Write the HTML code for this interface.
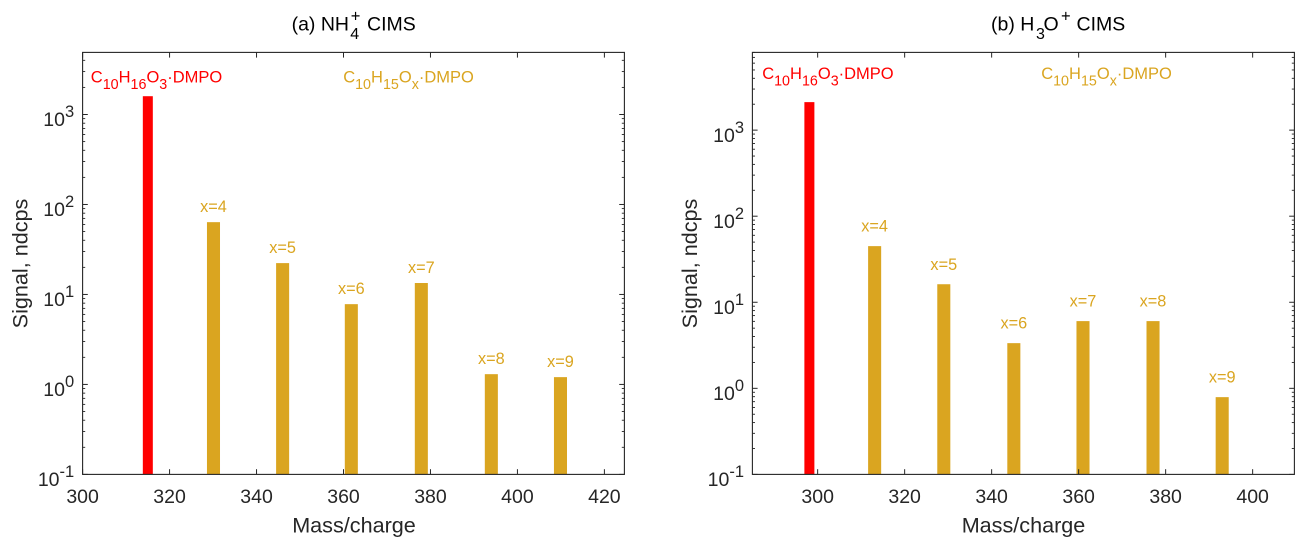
<!DOCTYPE html>
<html lang="en">
<head>
<meta charset="utf-8">
<title>CIMS signal charts</title>
<style>
html,body{margin:0;padding:0;background:#fff;width:1306px;height:549px;overflow:hidden}
svg{display:block}
text{font-family:"Liberation Sans",Arial,sans-serif}
.title{font-size:19.5px;fill:#000}
.axis-label{font-size:21.6px;fill:#262626;text-anchor:middle}
.tick{font-size:19.5px;fill:#262626}
.note{font-size:16.5px}
.bar-label{font-size:16.3px;fill:#DAA520;text-anchor:middle}
</style>
</head>
<body>
<svg id="figure" xmlns="http://www.w3.org/2000/svg" width="1306" height="549" viewBox="0 0 1306 549">
  <rect x="0" y="0" width="1306" height="549" fill="#fff"/>

  <g id="panel-a"></g>
  <g id="panel-b"></g>

  <text class="title" x="291.6" y="30.7">(a) NH<tspan font-size="16" x="350.3" y="39">4</tspan><tspan font-size="16.5" x="350.7" y="21.7">+</tspan><tspan x="367" y="30.7">CIMS</tspan></text>
  <text class="title" x="991" y="30.7">(b) H<tspan font-size="16" x="1036" y="39">3</tspan><tspan x="1043.5" y="30.7">O</tspan><tspan font-size="16.5" x="1061" y="21.7">+</tspan><tspan x="1076.5" y="30.7">CIMS</tspan></text>

  <text class="axis-label" x="354" y="532.4">Mass/charge</text>
  <text class="axis-label" x="1023.5" y="532.4">Mass/charge</text>
  <text class="axis-label" transform="translate(27.3 263.5) rotate(-90)">Signal, ndcps</text>
  <text class="axis-label" transform="translate(697 263.5) rotate(-90)">Signal, ndcps</text>

  <text class="note" fill="#FF0000" x="90.8" y="82.3">C<tspan font-size="14.3" dy="6.5">10</tspan><tspan dy="-6.5">H</tspan><tspan font-size="14.3" dy="6.5">16</tspan><tspan dy="-6.5">O</tspan><tspan font-size="14.3" dy="6.5">3</tspan><tspan dy="-6.5">·DMPO</tspan></text>
  <text class="note" fill="#DAA520" x="343.2" y="82.3">C<tspan font-size="14.3" dy="6.5">10</tspan><tspan dy="-6.5">H</tspan><tspan font-size="14.3" dy="6.5">15</tspan><tspan dy="-6.5">O</tspan><tspan font-size="14.3" dy="6.5">x</tspan><tspan dy="-6.5">·DMPO</tspan></text>
  <text class="note" fill="#FF0000" x="762.2" y="79">C<tspan font-size="14.3" dy="6.5">10</tspan><tspan dy="-6.5">H</tspan><tspan font-size="14.3" dy="6.5">16</tspan><tspan dy="-6.5">O</tspan><tspan font-size="14.3" dy="6.5">3</tspan><tspan dy="-6.5">·DMPO</tspan></text>
  <text class="note" fill="#DAA520" x="1041.2" y="79">C<tspan font-size="14.3" dy="6.5">10</tspan><tspan dy="-6.5">H</tspan><tspan font-size="14.3" dy="6.5">15</tspan><tspan dy="-6.5">O</tspan><tspan font-size="14.3" dy="6.5">x</tspan><tspan dy="-6.5">·DMPO</tspan></text>
</svg>

<script>
// Panel (a) data
const parentMassA = [315];
const parentSignalA = [1597];
const massA = [330.1, 346, 361.8, 377.9, 394, 409.9];
const signalA = [63.6, 22.3, 7.8, 13.4, 1.3, 1.205];
const labelsA = ['x=4', 'x=5', 'x=6', 'x=7', 'x=8', 'x=9'];
const xTicksA = [300, 320, 340, 360, 380, 400, 420];

// Panel (b) data
const parentMassB = [298.1];
const parentSignalB = [2115];
const massB = [313.1, 329, 345.1, 361, 377.1, 393];
const signalB = [44.9, 16.2, 3.35, 6.04, 6.04, 0.79];
const labelsB = ['x=4', 'x=5', 'x=6', 'x=7', 'x=8', 'x=9'];
const xTicksB = [300, 320, 340, 360, 380, 400];

// Shared log axis decades
const yExponentsA = [-1, 0, 1, 2, 3];
const yExponentsB = [-1, 0, 1, 2, 3];
const minorMultipliers = [2, 3, 4, 5, 6, 7, 8, 9];

const SVG_NS = 'http://www.w3.org/2000/svg';
const INK = '#262626';

function make(tag, parent) {
  const el = document.createElementNS(SVG_NS, tag);
  parent.appendChild(el);
  return el;
}

function drawLine(parent, x1, y1, x2, y2, w) {
  const el = make('line', parent);
  el.setAttribute('x1', x1);
  el.setAttribute('y1', y1);
  el.setAttribute('x2', x2);
  el.setAttribute('y2', y2);
  el.setAttribute('stroke', INK);
  el.setAttribute('stroke-width', w);
  return el;
}

function drawPanel(p) {
  const root = document.getElementById(p.id);
  const sx = v => p.left + (v - p.xMin) * (p.right - p.left) / (p.xMax - p.xMin);
  const sy = v => p.bottom - (Math.log10(v) - Math.log10(p.yMin)) * (p.bottom - p.top) / (Math.log10(p.yMax) - Math.log10(p.yMin));

  // Bars go first so the axis line sits on top of them
  const bars = make('g', root);
  
  
  p.parentMass.forEach((m, i) => {
    const r = make('rect', bars);
    
    
    const w = sx(m + 1.15) - sx(m - 1.15);
    r.setAttribute('x', sx(m) - w / 2);
    r.setAttribute('width', w);
    r.setAttribute('y', sy(p.parentSignal[i]));
    r.setAttribute('height', p.bottom - sy(p.parentSignal[i]));
    r.setAttribute('fill', '#FF0000');
  });
  p.mass.forEach((m, i) => {
    const r = make('rect', bars);
    
    
    const w = sx(m + 1.5) - sx(m - 1.5);
    r.setAttribute('x', sx(m) - w / 2);
    r.setAttribute('width', w);
    r.setAttribute('y', sy(p.signal[i]));
    r.setAttribute('height', p.bottom - sy(p.signal[i]));
    r.setAttribute('fill', '#DAA520');

    const t = make('text', root);
    
    
    t.setAttribute('class', 'bar-label');
    t.setAttribute('x', sx(m));
    t.setAttribute('y', sy(p.signal[i]) - p.labelGap);
    t.textContent = p.labels[i];
  });

  // Axes box
  const box = make('rect', root);
  
  
  box.setAttribute('x', p.left);
  box.setAttribute('y', p.top);
  box.setAttribute('width', p.right - p.left);
  box.setAttribute('height', p.bottom - p.top);
  box.setAttribute('fill', 'none');
  box.setAttribute('stroke', INK);
  box.setAttribute('stroke-width', 1.1);

  // X axis
  const xAxis = make('g', root);
  
  
  p.xTicks.forEach(v => {
    const x = sx(v);
    drawLine(xAxis, x, p.bottom, x, p.bottom - 5.2, 1);
    drawLine(xAxis, x, p.top, x, p.top + 5.2, 1);
    const t = make('text', xAxis);
    
    
    t.setAttribute('class', 'tick');
    t.setAttribute('text-anchor', 'middle');
    t.setAttribute('x', x);
    t.setAttribute('y', p.bottom + 28.4);
    t.textContent = String(v);
  });

  // Y axis
  const yAxis = make('g', root);
  
  
  p.yExponents.forEach(e => {
    const y = sy(Math.pow(10, e));
    drawLine(yAxis, p.left, y, p.left + 5.2, y, 1);
    drawLine(yAxis, p.right, y, p.right - 5.2, y, 1);
    const t = make('text', yAxis);
    
    
    t.setAttribute('class', 'tick');
    t.setAttribute('text-anchor', 'end');
    t.setAttribute('x', p.left - 8.4);
    t.setAttribute('y', y + 11.7);
    t.appendChild(document.createTextNode('10'));
    const s = make('tspan', t);
    s.setAttribute('font-size', '16.5');
    s.setAttribute('dy', '-9');
    s.textContent = String(e);

    minorMultipliers.forEach(m => {
      const val = m * Math.pow(10, e);
      if (val <= p.yMax) {
        const ym = sy(val);
        drawLine(yAxis, p.left, ym, p.left + 2.6, ym, 0.9);
        drawLine(yAxis, p.right, ym, p.right - 2.6, ym, 0.9);
      }
    });
  });
}

drawPanel({
  id: 'panel-a', left: 82.6, right: 624.4, top: 52.4, bottom: 474.4,
  xMin: 300, xMax: 424.6, yMin: 0.1, yMax: 4900,
  parentMass: parentMassA, parentSignal: parentSignalA,
  mass: massA, signal: signalA, labels: labelsA,
  xTicks: xTicksA, yExponents: yExponentsA, labelGap: 10
});

drawPanel({
  id: 'panel-b', left: 752.4, right: 1294.4, top: 52.4, bottom: 474.4,
  xMin: 285, xMax: 409.6, yMin: 0.1, yMax: 8000,
  parentMass: parentMassB, parentSignal: parentSignalB,
  mass: massB, signal: signalB, labels: labelsB,
  xTicks: xTicksB, yExponents: yExponentsB, labelGap: 14.4
});
</script>
</body>
</html>
